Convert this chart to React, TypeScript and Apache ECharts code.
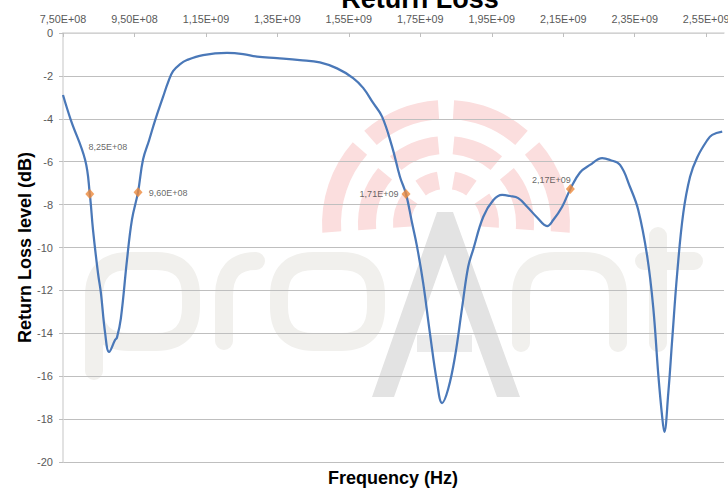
import React, { useEffect, useRef } from "react";
import * as echarts from "echarts";

// ---- data ----
const freqHz = [
  7.5e8, 7.72e8, 8.12e8, 8.25e8, 8.34e8, 8.48e8, 8.56e8, 8.68e8, 8.79e8, 8.96e8,
  9.01e8, 9.12e8, 9.29e8, 9.43e8, 9.6e8, 9.74e8, 9.91e8, 1.008e9, 1.03e9, 1.044e9,
  1.058e9, 1.078e9, 1.097e9, 1.142e9, 1.209e9, 1.254e9, 1.293e9, 1.349e9, 1.413e9, 1.469e9,
  1.517e9, 1.562e9, 1.59e9, 1.618e9, 1.643e9, 1.671e9, 1.693e9, 1.71e9, 1.727e9, 1.741e9,
  1.758e9, 1.777e9, 1.797e9, 1.811e9, 1.828e9, 1.847e9, 1.867e9, 1.884e9, 1.898e9, 1.926e9,
  1.954e9, 1.979e9, 2.001e9, 2.024e9, 2.049e9, 2.077e9, 2.105e9, 2.122e9, 2.147e9, 2.17e9,
  2.197e9, 2.225e9, 2.259e9, 2.281e9, 2.309e9, 2.337e9, 2.36e9, 2.385e9, 2.402e9, 2.416e9,
  2.427e9, 2.433e9, 2.444e9, 2.455e9, 2.469e9, 2.486e9, 2.505e9, 2.525e9, 2.553e9, 2.567e9,
  2.595e9,
];
const returnLossDb = [
  -2.89, -4.06, -5.92, -7.5, -9.18, -11.2, -12.1, -14.0, -14.87, -14.3,
  -14.2, -13.3, -10.6, -8.7, -7.42, -5.9, -5.0, -4.06, -2.98, -2.3,
  -1.78, -1.45, -1.26, -1.03, -0.93, -0.98, -1.1, -1.17, -1.26, -1.37,
  -1.65, -2.1, -2.56, -3.26, -3.9, -5.3, -6.7, -7.5, -8.86, -9.97,
  -11.65, -14.0, -16.3, -17.25, -16.6, -15.1, -12.8, -10.9, -10.1, -8.58,
  -7.8, -7.55, -7.6, -7.7, -8.1, -8.6, -9.0, -8.72, -8.1, -7.27,
  -6.5, -6.15, -5.83, -5.92, -6.15, -7.18, -8.25, -10.4, -12.8, -15.9,
  -17.9, -18.6, -16.8, -14.3, -11.2, -8.4, -6.7, -5.8, -5.0, -4.75,
  -4.6,
];
const markerFreqHz = [8.25e8, 9.6e8, 1.71e9, 2.17e9];
const markerDb = [-7.5, -7.42, -7.5, -7.27];

const X_MIN = 7.5e8;
const X_MAX = 2.6e9;
const X_STEP = 2e8;
const Y_MIN = -20;
const Y_MAX = 0;
const Y_STEP = 2;

// label placement for the marker texts (layout only)
const markerLabelOffsets = [
  [18, -47],
  [30, 1],
  [-27, 0],
  [-19, -9],
];

// ---- watermark shapes ----
const LETTERS_D =
  "M94,371 L94,296 Q94,261 129,261 L156,261 Q191,261 191,296 L191,307 Q191,342 156,342 L129,342 Q94,342 94,307 " +
  "M224,341 L224,296 Q224,261 256,261 " +
  "M279,296 Q279,261 314,261 L341,261 Q376,261 376,296 L376,307 Q376,342 341,342 L314,342 Q279,342 279,307 Z " +
  "M521,343 L521,296 Q521,261 556,261 L583,261 Q618,261 618,296 L618,343 " +
  "M658,236 L658,343 M644,261 L694,261";

echarts.graphic.registerShape(
  "proantLetters",
  echarts.graphic.extendPath(LETTERS_D, {})
);

function sci(v: number): string {
  const s = v.toExponential(2);
  const [m, e] = s.split("e");
  const n = parseInt(e, 10);
  return (
    m.replace(".", ",") +
    "E" +
    (n < 0 ? "-" : "+") +
    String(Math.abs(n)).padStart(2, "0")
  );
}

const FONT = '"Liberation Sans", Arial, sans-serif';

function buildArcs(): any[] {
  const cx = 446;
  const cy = 224;
  const rings = [
    [35, 53],
    [70, 88],
    [105, 124],
  ];
  const deg = Math.PI / 180;
  const out: any[] = [];
  rings.forEach(([r0, r]) => {
    const mid = (r0 + r) / 2;
    const g = 7.5 / mid; // half gap in radians
    const segs = [
      [176 * deg, 225 * deg - g],
      [225 * deg + g, 270 * deg - g],
      [270 * deg + g, 315 * deg - g],
      [315 * deg + g, 364 * deg],
    ];
    segs.forEach(([a0, a1]) => {
      out.push({
        type: "sector",
        z: -10,
        silent: true,
        shape: { cx, cy, r, r0, startAngle: a0, endAngle: a1, clockwise: true },
        style: { fill: "#fbdede" },
      });
    });
  });
  return out;
}

export default function App() {
  const ref = useRef<HTMLDivElement>(null);

  useEffect(() => {
    document.body.style.margin = "0";
    if (!ref.current) return;
    const chart = echarts.init(ref.current, undefined, { renderer: "svg" });

    const lineData = freqHz.map((f, i) => [f, returnLossDb[i]]);
    const markerData = markerFreqHz.map((f, i) => ({
      value: [f, markerDb[i]],
      label: { offset: markerLabelOffsets[i] },
    }));

    chart.setOption({
      animation: false,
      backgroundColor: "#ffffff",
      grid: {
        left: 63,
        top: 33,
        right: 4,
        bottom: 29,
        containLabel: false,
        outerBoundsMode: "none",
      },
      xAxis: {
        type: "value",
        position: "top",
        min: X_MIN,
        max: X_MAX,
        interval: X_STEP,
        axisLine: { show: true, lineStyle: { color: "#d9d9d9", width: 1.5 } },
        axisTick: { show: true, inside: true, length: 4, lineStyle: { color: "#bfbfbf" } },
        splitLine: { show: false },
        axisLabel: {
          formatter: (v: number) => sci(v),
          fontFamily: FONT,
          fontSize: 10.8,
          color: "#595959",
          margin: 9,
          showMaxLabel: false,
        },
      },
      yAxis: {
        type: "value",
        min: Y_MIN,
        max: Y_MAX,
        interval: Y_STEP,
        name: "Return Loss level (dB)",
        nameLocation: "middle",
        nameGap: 29,
        nameMoveOverlap: false,
        nameTextStyle: {
          fontFamily: FONT,
          fontSize: 18,
          fontWeight: "bold",
          color: "#000000",
        },
        axisLine: { show: true, lineStyle: { color: "#d9d9d9", width: 1.5 } },
        axisTick: { show: true, length: 4, lineStyle: { color: "#bfbfbf" } },
        splitLine: { show: true, lineStyle: { color: "#bfbfbf", width: 1 } },
        axisLabel: {
          fontFamily: FONT,
          fontSize: 11,
          color: "#595959",
          margin: 10,
        },
      },
      graphic: [
        ...buildArcs(),
        {
          type: "polygon",
          z: -10,
          silent: true,
          shape: {
            points: [
              [372, 397],
              [437, 212],
              [453, 212],
              [520, 397],
              [497, 397],
              [445, 254],
              [394, 397],
            ],
          },
          style: { fill: "#e3e3e3" },
        },
        {
          type: "rect",
          z: -10,
          silent: true,
          shape: { x: 417, y: 335, width: 55, height: 17 },
          style: { fill: "#ebebeb" },
        },
        {
          type: "proantLetters",
          z: -10,
          silent: true,
          x: 0,
          y: 0,
          style: {
            fill: "none",
            stroke: "#f1f0ed",
            lineWidth: 18,
            lineCap: "round",
            lineJoin: "round",
          },
        },
        {
          type: "text",
          z: 10,
          x: 420,
          y: -1,
          style: {
            text: "Return Loss",
            fontFamily: FONT,
            fontSize: 27,
            fontWeight: "bold",
            fill: "#000000",
            align: "center",
            verticalAlign: "middle",
          },
        },
        {
          type: "text",
          z: 10,
          x: 393,
          y: 478,
          style: {
            text: "Frequency (Hz)",
            fontFamily: FONT,
            fontSize: 18,
            fontWeight: "bold",
            fill: "#000000",
            align: "center",
            verticalAlign: "middle",
          },
        },
      ],
      series: [
        {
          type: "line",
          data: lineData,
          showSymbol: false,
          smooth: 0.4,
          lineStyle: { color: "#4a78b8", width: 2.25 },
          z: 2,
        },
        {
          type: "scatter",
          data: markerData,
          symbol: "diamond",
          symbolSize: [9, 10],
          itemStyle: { color: "#ec8a3c" },
          label: {
            show: true,
            position: "inside",
            formatter: (p: any) => sci(p.value[0]),
            fontFamily: FONT,
            fontSize: 9,
            color: "#404040",
            textBorderWidth: 0,
          },
          z: 3,
        },
      ],
    });

    return () => {
      chart.dispose();
    };
  }, []);

  return (
    <div
      ref={ref}
      style={{ position: "fixed", left: 0, top: 0, width: 728, height: 491 }}
    />
  );
}
